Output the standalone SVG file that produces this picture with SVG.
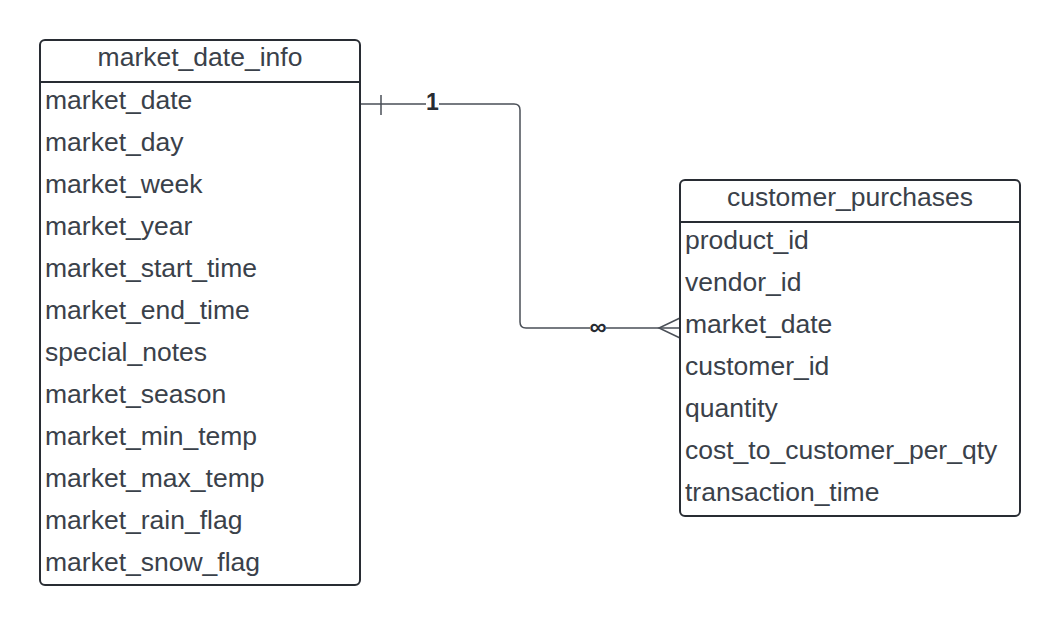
<svg xmlns="http://www.w3.org/2000/svg" width="1060" height="626" viewBox="0 0 1060 626">
<style>
.box{fill:#fff;stroke:#282c33;stroke-width:2}
.sep{stroke:#282c33;stroke-width:2}
.t{font-family:"Liberation Sans",Arial,sans-serif;font-size:26.5px;fill:#3a414a}
.h{text-anchor:middle}
.c{fill:none;stroke:#4a4f57;stroke-width:1.5}
.lbl{font-family:"Liberation Sans",Arial,sans-serif;font-size:23px;font-weight:bold;fill:#282c33;text-anchor:middle}
</style>
<rect width="1060" height="626" fill="#fff"/>
<g id="connectors">
<path class="c" d="M360 104 H514 Q520 104 520 110 V322 Q520 328 526 328 H680"/>
<line class="c" x1="381" y1="95" x2="381" y2="115"/>
<path class="c" d="M680 318 L659 328 L680 338"/>
<rect x="426" y="92" width="13" height="22" fill="#fff"/>
<text class="lbl" x="432.5" y="110">1</text>
<rect x="590" y="318" width="16" height="20" fill="#fff"/>
<text class="lbl" x="598" y="335" style="font-size:24px">∞</text>
</g>
<g id="market_date_info">
<rect class="box" x="40" y="40" width="320" height="545" rx="5"/>
<line class="sep" x1="40" y1="82" x2="360" y2="82"/>
<text class="t h" x="200" y="66">market_date_info</text>
<text class="t" x="45" y="109">market_date</text>
<text class="t" x="45" y="151">market_day</text>
<text class="t" x="45" y="193">market_week</text>
<text class="t" x="45" y="235">market_year</text>
<text class="t" x="45" y="277">market_start_time</text>
<text class="t" x="45" y="319">market_end_time</text>
<text class="t" x="45" y="361">special_notes</text>
<text class="t" x="45" y="403">market_season</text>
<text class="t" x="45" y="445">market_min_temp</text>
<text class="t" x="45" y="487">market_max_temp</text>
<text class="t" x="45" y="529">market_rain_flag</text>
<text class="t" x="45" y="571">market_snow_flag</text>
</g>
<g id="customer_purchases">
<rect class="box" x="680" y="180" width="340" height="336" rx="5"/>
<line class="sep" x1="680" y1="222" x2="1020" y2="222"/>
<text class="t h" x="850" y="206">customer_purchases</text>
<text class="t" x="685" y="249">product_id</text>
<text class="t" x="685" y="291">vendor_id</text>
<text class="t" x="685" y="333">market_date</text>
<text class="t" x="685" y="375">customer_id</text>
<text class="t" x="685" y="417">quantity</text>
<text class="t" x="685" y="459">cost_to_customer_per_qty</text>
<text class="t" x="685" y="501">transaction_time</text>
</g>
</svg>
